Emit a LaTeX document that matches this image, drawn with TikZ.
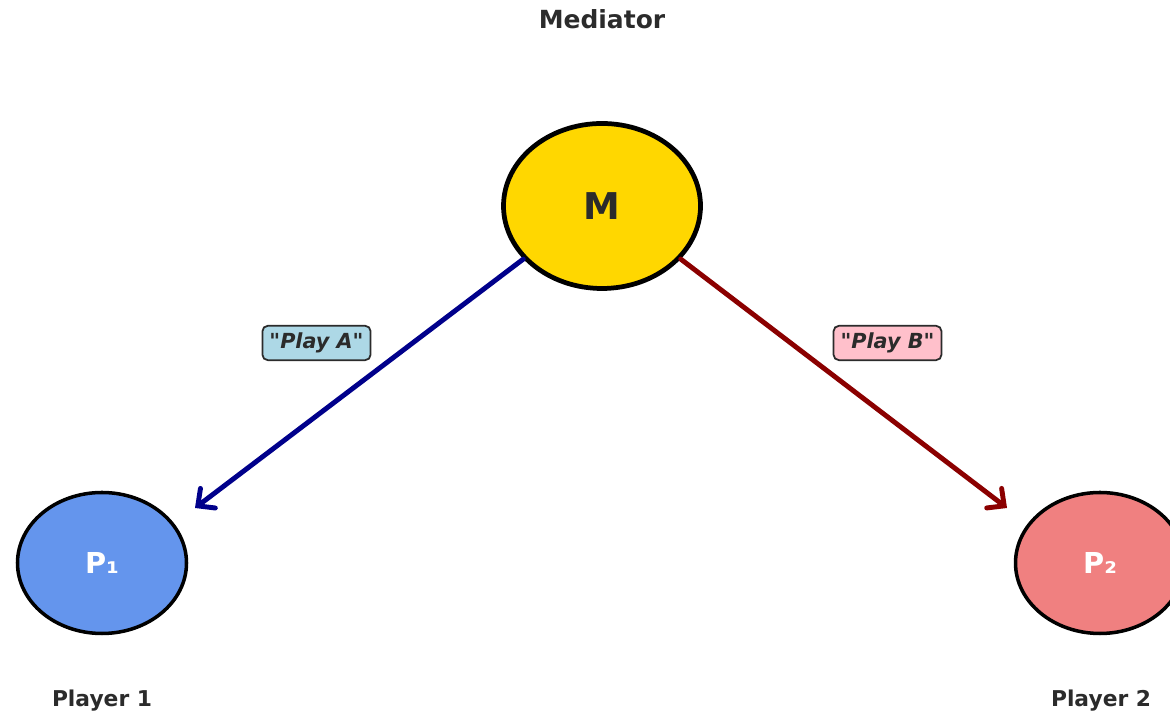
\documentclass[tikz,border=0pt]{standalone}
\usepackage{fontspec}
\setmainfont{DejaVu Sans}[Ligatures=TeXOff]
\usepackage{tikz}
\usetikzlibrary{positioning, arrows.meta, shapes.geometric, calc}

\definecolor{txtgray}{HTML}{2B2B2B}
\definecolor{medgold}{HTML}{FFD700}
\definecolor{pblue}{HTML}{6495ED}
\definecolor{pred}{HTML}{F08080}
\definecolor{boxblue}{HTML}{ADD8E6}
\definecolor{boxpink}{HTML}{FFC0CB}
\definecolor{msgblue}{HTML}{00008B}
\definecolor{msgred}{HTML}{8B0000}

\tikzset{
  agent/.style={ellipse, draw=black, inner sep=0pt, line width=1.0pt,
    minimum width=1.69cm, minimum height=1.41cm, text=white,
    font=\fontsize{8.2}{10}\selectfont\bfseries},
  caption/.style={text=txtgray, font=\fontsize{6.2}{8}\selectfont\bfseries},
  msg/.style={draw=txtgray, rounded corners=1.5pt, line width=0.5pt,
    inner sep=2pt, text=txtgray,
    font=\fontsize{5.9}{7}\selectfont\bfseries\itshape},
  signal/.style={line width=1.4pt, line cap=round,
    -{Straight Barb[length=3.6pt, width=7pt, line cap=round]}},
}

\begin{document}
\begin{tikzpicture}
	\useasboundingbox (0,0) rectangle (11.7,7.14);
	% mediator on top
	\node[text=txtgray, font=\fontsize{7.1}{9}\selectfont\bfseries] (medtitle) at (6.02, 6.95) {Mediator};
	\node[ellipse, draw=black, fill=medgold, line width=1.35pt, inner sep=0pt,
		minimum width=1.97cm, minimum height=1.65cm, text=txtgray,
		font=\fontsize{10.5}{12}\selectfont\bfseries] (M) at (6.02, 5.08) {M};
	% the two players
	\node[agent, fill=pblue] (P1) at (1.02, 1.51) {P₁};
	\node[agent, fill=pred] (P2) at (11.00, 1.51) {P₂};
	\node[caption] (name1) at (1.02, 0.13) {Player 1};
	\node[caption] (name2) at (11.01, 0.13) {Player 2};
	% recommendations
	\coordinate (tipA) at (1.95, 2.06);
	\coordinate (tipB) at (10.07, 2.06);
	\draw[signal, msgblue] (M.214) -- (tipA);
	\draw[signal, msgred] (M.326) -- (tipB);
	\node[msg, fill=boxblue] (recA) at (3.165, 3.71) {"Play A"};
	\node[msg, fill=boxpink] (recB) at (8.875, 3.71) {"Play B"};
\end{tikzpicture}
\end{document}
